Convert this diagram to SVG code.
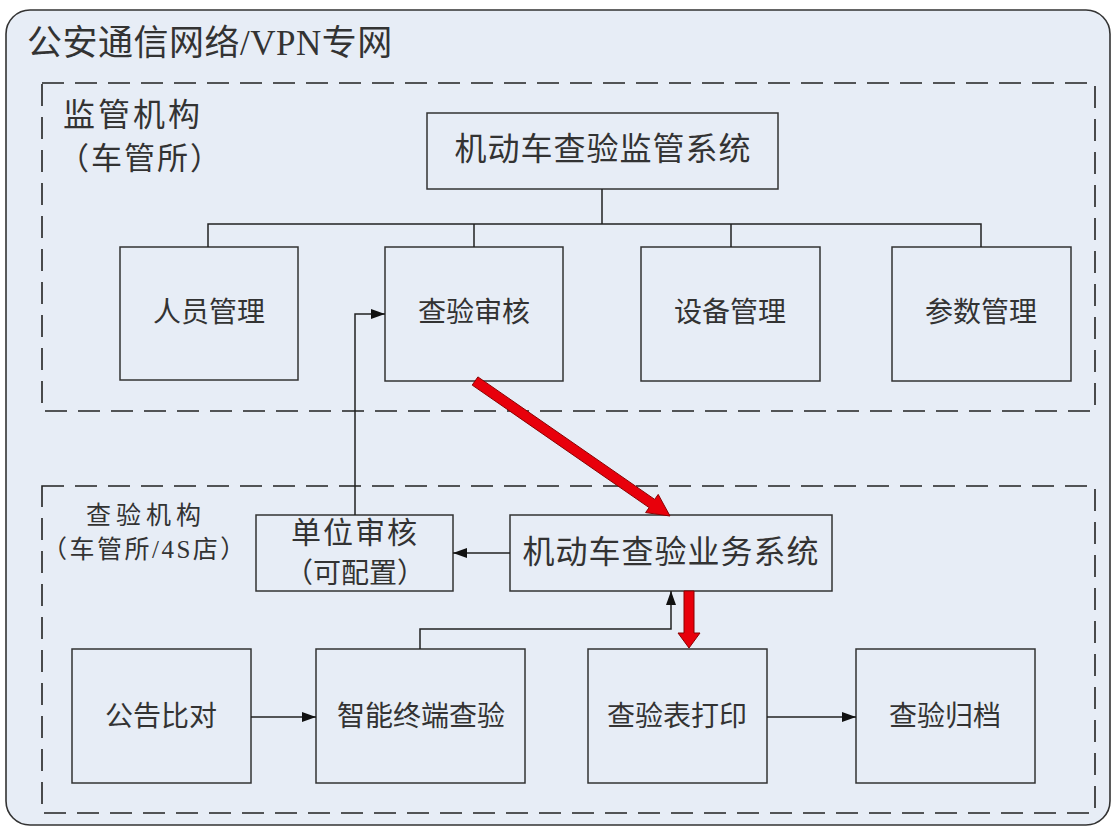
<svg xmlns="http://www.w3.org/2000/svg" width="1112" height="826" viewBox="0 0 1112 826">
<defs>
<style>
text{font-family:"Liberation Serif","Noto Sans CJK SC",serif;fill:#333;}
.box{fill:#e7edf6;stroke:#333;stroke-width:1.5;}
.dash{fill:none;stroke:#222;stroke-width:1.6;stroke-dasharray:22 11;}
.ln{fill:none;stroke:#222;stroke-width:1.5;}
.red{fill:#e8000b;stroke:#8a0000;stroke-width:1;}
.t28{font-size:28px;text-anchor:middle;}
.t32{font-size:32px;text-anchor:middle;letter-spacing:1px;}
</style>
<marker id="ah" markerUnits="userSpaceOnUse" markerWidth="14" markerHeight="10" refX="14" refY="5" orient="auto"><path d="M0,0 L14,5 L0,10 z" fill="#111"/></marker>
</defs>
<rect width="1112" height="826" fill="#ffffff"/>
<g id="vpn">
<rect x="6" y="10" width="1104" height="815" rx="24" fill="#e7edf6" stroke="#333" stroke-width="1.6"/>
<text x="27" y="55" font-size="35" letter-spacing="0.5">公安通信网络/VPN专网</text>
</g>
<g id="supervise">
<rect class="dash" x="42" y="83" width="1053" height="328"/>
<text x="63" y="126" font-size="32" letter-spacing="3">监管机构</text>
<text x="58" y="169" font-size="31" letter-spacing="2">（车管所）</text>
</g>
<g id="inspect">
<rect class="dash" x="42" y="486" width="1053" height="327"/>
<text x="86" y="524" font-size="25" letter-spacing="5">查验机构</text>
<text x="42" y="558" font-size="25" letter-spacing="2.5">（车管所/4S店）</text>
</g>
<g id="n-supsys"><rect class="box" x="427" y="113" width="351" height="76"/><text class="t32" x="603" y="160">机动车查验监管系统</text></g>
<g id="n-staff"><rect class="box" x="120" y="247" width="178" height="133"/><text class="t28" x="209" y="322">人员管理</text></g>
<g id="n-audit"><rect class="box" x="385" y="247" width="178" height="134"/><text class="t28" x="474" y="322">查验审核</text></g>
<g id="n-device"><rect class="box" x="641" y="247" width="179" height="134"/><text class="t28" x="730" y="322">设备管理</text></g>
<g id="n-param"><rect class="box" x="892" y="247" width="179" height="134"/><text class="t28" x="981" y="322">参数管理</text></g>
<g id="n-unit"><rect class="box" x="256" y="515" width="197" height="76"/><text x="355" y="543" font-size="30" text-anchor="middle" letter-spacing="2">单位审核</text><text x="355" y="583" font-size="28" text-anchor="middle">（可配置）</text></g>
<g id="n-bizsys"><rect class="box" x="510" y="515" width="322" height="76"/><text class="t32" x="671" y="563">机动车查验业务系统</text></g>
<g id="n-notice"><rect class="box" x="72" y="649" width="179" height="134"/><text class="t28" x="161" y="726">公告比对</text></g>
<g id="n-terminal"><rect class="box" x="316" y="649" width="209" height="134"/><text class="t28" x="421" y="726">智能终端查验</text></g>
<g id="n-print"><rect class="box" x="588" y="649" width="179" height="134"/><text class="t28" x="677" y="726">查验表打印</text></g>
<g id="n-archive"><rect class="box" x="856" y="649" width="179" height="134"/><text class="t28" x="945" y="726">查验归档</text></g>
<g id="connectors">
<path class="ln" d="M602,189 V224 M208,247 V224 H981 V247 M474,224 V247 M731,224 V247"/>
<path class="ln" d="M355,515 V314 H385" marker-end="url(#ah)"/>
<path class="ln" d="M510,553 H453" marker-end="url(#ah)"/>
<path class="ln" d="M420,649 V629 H671 V591" marker-end="url(#ah)"/>
<path class="ln" d="M251,717 H316" marker-end="url(#ah)"/>
<path class="ln" d="M767,717 H856" marker-end="url(#ah)"/>
<polygon class="red" points="477.9,376.9 654.7,499.4 658.2,494.4 670,516 645.6,512.6 649.1,507.6 472.2,385.1"/>
<polygon class="red" points="684,591 694,591 694,633 700,633 689,648 678,633 684,633"/>
</g>
</svg>
